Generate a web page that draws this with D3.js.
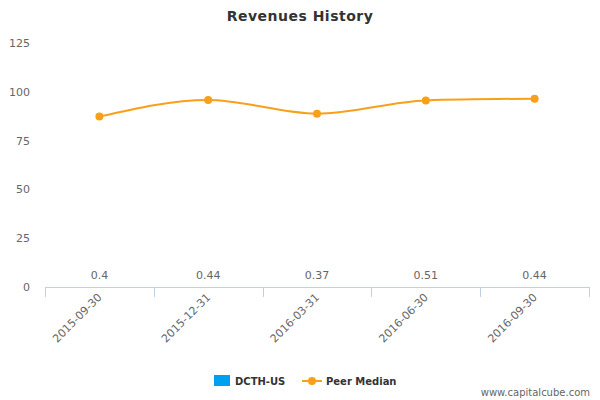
<!DOCTYPE html>
<html><head><meta charset="utf-8">
<script src="https://cdn.jsdelivr.net/npm/d3@7"></script>
<style>body{margin:0;background:#fff}text{font-family:"DejaVu Sans",sans-serif}</style>
</head><body><div id="chart"></div>
<script>
const categories = ['2015-09-30', '2015-12-31', '2016-03-31', '2016-06-30', '2016-09-30']
const companyValues = [0.4, 0.44, 0.37, 0.51, 0.44]
const peerMedian = [87.3, 95.8, 88.8, 95.6, 96.5]
const yTicks = [0, 25, 50, 75, 100, 125]

const W = 600, H = 400
const svg = d3.select('#chart').append('svg').attr('width', W).attr('height', H)

const x = d3.scaleBand().domain(categories).range([45, 589])
const y = d3.scaleLinear().domain([0, 125]).range([287, 43])

svg.append('text').attr('x', 300).attr('y', 21).attr('text-anchor', 'middle')
  .attr('font-size', 14).attr('font-weight', 600).attr('fill', '#333').attr('letter-spacing', 0.5).text('Revenues History')

svg.selectAll('.yl').data(yTicks).enter().append('text')
  .attr('x', 30).attr('y', d => y(d) + 4).attr('text-anchor', 'end')
  .attr('font-size', 11).attr('fill', '#666').text(d => d)

svg.append('line').attr('x1', 45).attr('x2', 589).attr('y1', 287.5).attr('y2', 287.5).attr('stroke', '#c0d0e0')
svg.selectAll('.xt').data(categories.concat([null])).enter().append('line')
  .attr('x1', (d, i) => Math.round(45 + i * x.bandwidth()) + 0.5)
  .attr('x2', (d, i) => Math.round(45 + i * x.bandwidth()) + 0.5)
  .attr('y1', 287).attr('y2', 297).attr('stroke', '#c0d0e0')
svg.selectAll('.xl').data(categories).enter().append('text')
  .attr('transform', d => `translate(${x(d) + x.bandwidth() / 2 + 3},${298}) rotate(-45)`)
  .attr('text-anchor', 'end').attr('font-size', 11).attr('fill', '#666').text(d => d)

// company bars: values are so small they render sub-pixel
svg.selectAll('.bar').data(companyValues).enter().append('rect')
  .attr('x', (d, i) => x(categories[i]) + 20).attr('width', x.bandwidth() - 40)
  .attr('y', d => y(d)).attr('height', d => y(0) - y(d)).attr('fill', '#00a0f0').attr('opacity', 0)
svg.selectAll('.bl').data(companyValues).enter().append('text')
  .attr('x', (d, i) => x(categories[i]) + x.bandwidth() / 2).attr('y', d => y(d) - 7)
  .attr('text-anchor', 'middle').attr('font-size', 11).attr('fill', '#666').text(d => d)

const line = d3.line().x((d, i) => x(categories[i]) + x.bandwidth() / 2).y(d => y(d)).curve(d3.curveMonotoneX)
svg.append('path').datum(peerMedian).attr('d', line).attr('fill', 'none').attr('stroke', '#f8a01a').attr('stroke-width', 2)
svg.selectAll('.pt').data(peerMedian).enter().append('circle')
  .attr('cx', (d, i) => x(categories[i]) + x.bandwidth() / 2).attr('cy', d => y(d)).attr('r', 4).attr('fill', '#f8a01a')

svg.append('rect').attr('x', 214).attr('y', 375).attr('width', 16).attr('height', 11).attr('fill', '#00a0f0')
svg.append('text').attr('x', 235).attr('y', 385).attr('font-size', 10).attr('font-weight', 'bold').attr('fill', '#333').text('DCTH-US')
svg.append('line').attr('x1', 302).attr('x2', 322).attr('y1', 381).attr('y2', 381).attr('stroke', '#f8a01a').attr('stroke-width', 2)
svg.append('circle').attr('cx', 312).attr('cy', 381).attr('r', 4).attr('fill', '#f8a01a')
svg.append('text').attr('x', 326).attr('y', 385).attr('font-size', 10).attr('font-weight', 'bold').attr('fill', '#333').text('Peer Median')

svg.append('text').attr('x', 590).attr('y', 396).attr('text-anchor', 'end').attr('font-size', 10).attr('fill', '#666').text('www.capitalcube.com')
</script></body></html>
